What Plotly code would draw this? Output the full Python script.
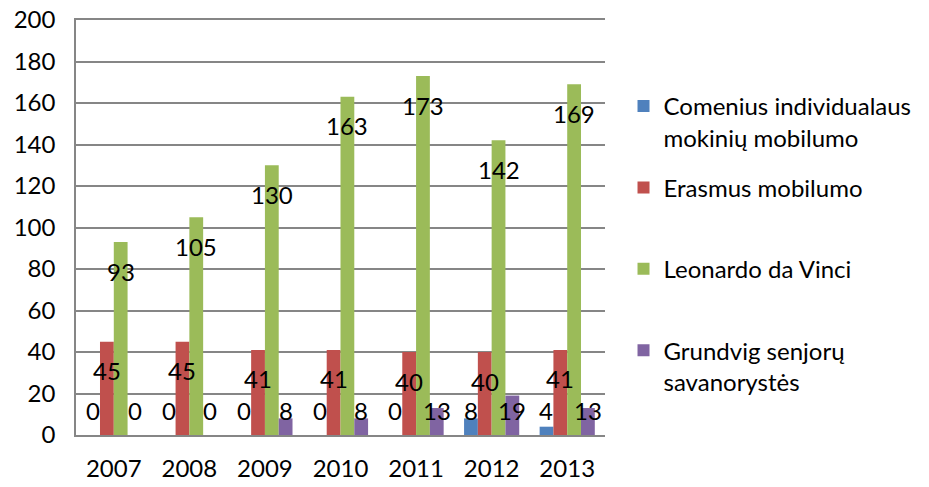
import plotly.graph_objects as go

years = ['2007', '2008', '2009', '2010', '2011', '2012', '2013']
series_names = ['Comenius individualaus<br>mokinių mobilumo',
                'Erasmus mobilumo<br> ',
                'Leonardo da Vinci<br> ',
                'Grundvig senjorų<br>savanorystės']
comenius = [0, 0, 0, 0, 0, 8, 4]
erasmus = [45, 45, 41, 41, 40, 40, 41]
leonardo = [93, 105, 130, 163, 173, 142, 169]
grundvig = [0, 0, 8, 8, 13, 19, 13]
colors = ['#4F81BD', '#C0504D', '#9BBB59', '#8064A2']

FONT = 'Lato, Open Sans, sans-serif'
all_series = [comenius, erasmus, leonardo, grundvig]

fig = go.Figure()
for i, (name, vals) in enumerate(zip(series_names, all_series)):
    fig.add_trace(go.Bar(x=years, y=vals, name=name, marker_color=colors[i],
                         marker_line_width=0, legendgroup=str(i)))

# data labels, a bit below the bar tops (kept above the axis for small values)
bar_px = (921 - 68 - 322) / 7 * 0.73 / 4
for i, vals in enumerate(all_series):
    dx = (i - 1.5) * bar_px
    for j, v in enumerate(vals):
        fig.add_annotation(x=j, y=max(v, 26), text=str(v), showarrow=False,
                           xshift=dx, yshift=-29, yanchor='middle',
                           font=dict(family=FONT, size=24, color='black'))

# page body has an 8px default margin, so the figure is 8px smaller
fig.update_layout(
    width=921, height=479,
    margin=dict(l=68, r=322, t=12, b=52),
    plot_bgcolor='white', paper_bgcolor='white',
    barmode='group', bargap=0.27, bargroupgap=0,
    font=dict(family=FONT, size=24, color='black'),
    legend=dict(x=1.035, y=0.846, xanchor='left', yanchor='top',
                valign='top', traceorder='grouped', tracegroupgap=16,
                itemwidth=30, font=dict(family=FONT, size=24)),
)
# mirror the x line so the top (200) edge is drawn like a gridline
fig.update_xaxes(type='category', range=[-0.5, len(years) - 0.5], automargin=False,
                 showline=True, mirror=True, linecolor='#868686', linewidth=1.5,
                 ticks='outside', ticklen=11, tickcolor='rgba(0,0,0,0)',
                 showgrid=False)
fig.update_yaxes(range=[0, 200], dtick=20, automargin=False,
                 ticklabeloverflow='allow',
                 showline=True, linecolor='#868686',
                 linewidth=1.5, gridcolor='#868686', gridwidth=1.5,
                 ticks='outside', ticklen=14, tickcolor='rgba(0,0,0,0)',
                 zeroline=False)

fig.write_html("out.html")
